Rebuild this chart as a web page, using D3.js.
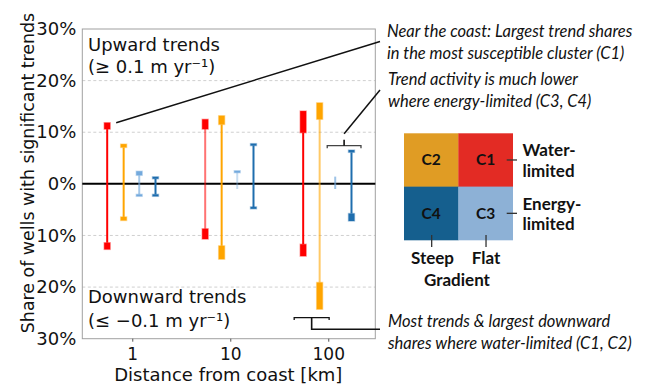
<!DOCTYPE html>
<html>
<head>
<meta charset="utf-8">
<script src="https://cdn.jsdelivr.net/npm/d3@7"></script>
<style>
  html, body { margin: 0; padding: 0; background: #fff; }
  svg { display: block; }
  .axis text { font-family: "DejaVu Sans", sans-serif; }
  .note { font-family: Lato, "Open Sans", sans-serif; font-style: italic; }
  .key { font-family: Lato, "Open Sans", sans-serif; font-weight: bold; }
</style>
</head>
<body>
<svg id="chart" width="663" height="385"></svg>
<script>
// Distance bins (km) and clusters
const distances = [1, 10, 100];
const clusters = ["C1", "C2", "C3", "C4"];

// Share of wells (%) with significant upward trends: [low, high] per distance bin
const upC1 = [[10.6, 11.85], [10.6, 12.5], [9.9, 14.1]];
const upC2 = [[7.05, 7.7], [11.5, 13.2], [12.5, 15.7]];
const upC3 = [[1.65, 2.45], [2.2, 2.5], [1.4, 1.4]];
const upC4 = [[1.0, 1.35], [7.45, 7.75], [6.1, 6.55]];

// Share of wells (%) with significant downward trends: [low, high] per distance bin
const downC1 = [[-11.4, -12.7], [-8.7, -10.7], [-11.7, -14.0]];
const downC2 = [[-6.4, -7.1], [-12.0, -14.6], [-19.1, -24.3]];
const downC3 = [[-2.05, -2.4], [-1.0, -1.0], [-1.0, -1.0]];
const downC4 = [[-2.05, -2.4], [-4.5, -4.8], [-5.75, -7.2]];

const yTicks = [-30, -20, -10, 0, 10, 20, 30];
const xTicks = [1, 10, 100];

// --- styling ---
const colors = { C1: "#ff0000", C2: "#ffa500", C3: "#74aadd", C4: "#1f6eae" };
const stemOpacity = { C1: [1, 0.55, 1], C2: [1, 1, 0.6], C3: [0.65, 0.4, 0.7], C4: [1, 1, 1] };
const dodge = { C1: -0.256, C2: -0.088, C3: 0.071, C4: 0.237 }; // offsets in decades
const keyColors = { C1: "#e32b24", C2: "#e09c24", C3: "#8db1d6", C4: "#155f8e" };

const upData = { C1: upC1, C2: upC2, C3: upC3, C4: upC4 };
const downData = { C1: downC1, C2: downC2, C3: downC3, C4: downC4 };

const svg = d3.select("#chart");
const plotL = 82.3, plotR = 375.3, plotT = 29, plotB = 338.7;

const x = d3.scaleLog().domain([0.309, 302]).range([plotL, plotR]);
const y = d3.scaleLinear().domain([-30, 30]).range([plotB, plotT]);
const xPos = (c, i) => x(distances[i] * Math.pow(10, dodge[c]));

// grid lines
svg.append("g").selectAll("line")
  .data(yTicks.filter(t => t !== 0 && Math.abs(t) !== 30))
  .join("line")
  .attr("x1", plotL).attr("x2", plotR)
  .attr("y1", d => y(d)).attr("y2", d => y(d))
  .attr("stroke", "#cfcfcf").attr("stroke-width", 1)
  .attr("stroke-dasharray", "3,2.5");

// frame
svg.append("rect")
  .attr("x", plotL).attr("y", plotT)
  .attr("width", plotR - plotL).attr("height", plotB - plotT)
  .attr("fill", "none").attr("stroke", "#a0a0a0").attr("stroke-width", 1);

// y axis
const yAxis = d3.axisLeft(y).tickValues(yTicks).tickSize(0).tickPadding(6)
  .tickFormat(d => Math.abs(d) + "%");
svg.append("g").attr("class", "axis")
  .attr("transform", `translate(${plotL},0)`)
  .call(yAxis)
  .call(g => g.select(".domain").remove())
  .call(g => g.selectAll("text").attr("font-size", 18).attr("fill", "#111"));

// x axis
const xAxis = d3.axisBottom(x).tickValues(xTicks).tickSize(3).tickPadding(6.5)
  .tickFormat(d3.format("d"));
svg.append("g").attr("class", "axis")
  .attr("transform", `translate(0,${plotB})`)
  .call(xAxis)
  .call(g => g.select(".domain").remove())
  .call(g => g.selectAll("line").attr("stroke", "#555"))
  .call(g => g.selectAll("text").attr("font-size", 17).attr("fill", "#111"));

// axis titles
svg.append("text")
  .attr("x", (plotL + plotR) / 2 - 0.5).attr("y", 381)
  .attr("text-anchor", "middle")
  .attr("font-family", "DejaVu Sans").attr("font-size", 18).attr("fill", "#111")
  .text("Distance from coast [km]");
svg.append("text")
  .attr("transform", `translate(34,173) rotate(-90)`)
  .attr("text-anchor", "middle")
  .attr("font-family", "DejaVu Sans").attr("font-size", 17.4).attr("fill", "#111")
  .text("Share of wells with significant trends");

// zero line
svg.append("line")
  .attr("x1", plotL).attr("x2", plotR)
  .attr("y1", y(0)).attr("y2", y(0))
  .attr("stroke", "#000").attr("stroke-width", 2);

// stems and range boxes
const marks = [];
clusters.forEach(c => {
  distances.forEach((d, i) => {
    marks.push({ c, i, range: upData[c][i] });
    marks.push({ c, i, range: downData[c][i] });
  });
});

const mg = svg.append("g");
mg.selectAll("line.stem").data(marks).join("line")
  .attr("class", "stem")
  .attr("x1", m => xPos(m.c, m.i)).attr("x2", m => xPos(m.c, m.i))
  .attr("y1", y(0))
  .attr("y2", m => y(m.range[0]))
  .attr("stroke", m => colors[m.c])
  .attr("stroke-opacity", m => stemOpacity[m.c][m.i])
  .attr("stroke-width", 2);

mg.selectAll("rect.box").data(marks.filter(m => m.range[0] !== m.range[1])).join("rect")
  .attr("class", "box")
  .attr("x", m => xPos(m.c, m.i) - 3)
  .attr("width", 6)
  .attr("y", m => {
    const a = y(m.range[0]), b = y(m.range[1]);
    const h = Math.max(2, Math.abs(a - b));
    return (a + b) / 2 - h / 2;
  })
  .attr("height", m => Math.max(2, Math.abs(y(m.range[0]) - y(m.range[1]))))
  .attr("fill", m => colors[m.c])
  .attr("stroke", m => colors[m.c])
  .attr("stroke-opacity", 0.35)
  .attr("stroke-width", 1.4);

// labels inside the axes
const inner = svg.append("g").attr("font-family", "DejaVu Sans").attr("font-size", 18).attr("fill", "#111");
inner.append("text").attr("x", 88).attr("y", 50.7).text("Upward trends");
inner.append("text").attr("x", 88).attr("y", 72.5).text("(\u2265 0.1 m yr\u207B\u00B9)");
inner.append("text").attr("x", 88).attr("y", 302.7).text("Downward trends");
inner.append("text").attr("x", 88).attr("y", 326.5).text("(\u2264 \u22120.1 m yr\u207B\u00B9)");

// annotations
const ann = svg.append("g").attr("stroke", "#111").attr("fill", "none");
// near-coast C1 callout
ann.append("line")
  .attr("x1", xPos("C1", 0) + 9).attr("y1", y(upC1[0][1]))
  .attr("x2", 380).attr("y2", 41.5).attr("stroke-width", 1.5);

// bracket over the energy-limited clusters at 100 km
const bTopY = y(7.4);
const bx1 = xPos("C3", 2) - 8, bx2 = xPos("C4", 2) + 9.5, bmid = (bx1 + bx2) / 2;
ann.append("path")
  .attr("d", `M${bx1},${bTopY + 2.5}V${bTopY}H${bx2}V${bTopY + 2.5}`)
  .attr("stroke", "#444").attr("stroke-width", 1.3);
ann.append("path")
  .attr("d", `M${bmid},${bTopY}V${bTopY - 6}`)
  .attr("stroke-width", 1.6);
ann.append("line")
  .attr("x1", bmid).attr("y1", bTopY - 12)
  .attr("x2", 380).attr("y2", 90).attr("stroke-width", 1.5);

// bracket under the water-limited clusters at 100 km
const bBotY = y(-25.9);
const cx1 = xPos("C1", 2) - 9, cx2 = xPos("C2", 2) + 9.5, cmid = (cx1 + cx2) / 2;
ann.append("path")
  .attr("d", `M${cx1},${bBotY + 2.5}V${bBotY}H${cx2}V${bBotY + 2.5}`)
  .attr("stroke-width", 1.3);
ann.append("path")
  .attr("d", `M${cmid},${bBotY}V${329.3}H${380}`)
  .attr("stroke-width", 1.6);

const notes = svg.append("g").attr("class", "note").attr("font-size", 16.5).attr("fill", "#111");
notes.append("text").attr("x", 387).attr("y", 36.5).text("Near the coast: Largest trend shares");
notes.append("text").attr("x", 387).attr("y", 59).text("in the most susceptible cluster (C1)");
notes.append("text").attr("x", 388).attr("y", 84.5).text("Trend activity is much lower");
notes.append("text").attr("x", 388).attr("y", 107).text("where energy-limited (C3, C4)");
notes.append("text").attr("x", 388).attr("y", 326.5).text("Most trends & largest downward");
notes.append("text").attr("x", 388).attr("y", 348.5).text("shares where water-limited (C1, C2)");

// cluster key: aridity (rows) by gradient (columns)
const kx = d3.scaleBand().domain(["steep", "flat"]).range([404, 512.7]);
const ky = d3.scaleBand().domain(["water", "energy"]).range([133.3, 240]);
const cells = [
  { id: "C2", col: "steep", row: "water" },
  { id: "C1", col: "flat", row: "water" },
  { id: "C4", col: "steep", row: "energy" },
  { id: "C3", col: "flat", row: "energy" }
];
const key = svg.append("g");
key.selectAll("rect").data(cells).join("rect")
  .attr("x", d => kx(d.col)).attr("y", d => ky(d.row))
  .attr("width", kx.bandwidth() + 0.3).attr("height", ky.bandwidth() + 0.3)
  .attr("fill", d => keyColors[d.id]);
key.selectAll("text").data(cells).join("text")
  .attr("class", "key")
  .attr("x", d => kx(d.col) + kx.bandwidth() / 2)
  .attr("y", d => ky(d.row) + ky.bandwidth() / 2 + 5.5)
  .attr("text-anchor", "middle").attr("font-size", 15.5).attr("fill", "#111")
  .text(d => d.id);

// key leader ticks
["water", "energy"].forEach(r => {
  key.append("line")
    .attr("x1", 506.7).attr("x2", 517)
    .attr("y1", ky(r) + ky.bandwidth() / 2).attr("y2", ky(r) + ky.bandwidth() / 2)
    .attr("stroke", "#333").attr("stroke-width", 1.3);
});
["steep", "flat"].forEach(cn => {
  key.append("line")
    .attr("x1", kx(cn) + kx.bandwidth() / 2 + 0.5).attr("x2", kx(cn) + kx.bandwidth() / 2 + 0.5)
    .attr("y1", 235).attr("y2", 247)
    .attr("stroke", "#333").attr("stroke-width", 1.3);
});

const kt = svg.append("g").attr("class", "key").attr("font-size", 17).attr("fill", "#111");
kt.append("text").attr("x", 522.5).attr("y", 156).text("Water-");
kt.append("text").attr("x", 522.5).attr("y", 176.5).text("limited");
kt.append("text").attr("x", 522.5).attr("y", 209.5).text("Energy-");
kt.append("text").attr("x", 522.5).attr("y", 230).text("limited");
kt.append("text").attr("x", 432.5).attr("y", 263.5).attr("text-anchor", "middle").text("Steep");
kt.append("text").attr("x", 486).attr("y", 263.5).attr("text-anchor", "middle").text("Flat");
kt.append("text").attr("x", 457).attr("y", 285.7).attr("text-anchor", "middle").text("Gradient");
</script>
</body>
</html>
